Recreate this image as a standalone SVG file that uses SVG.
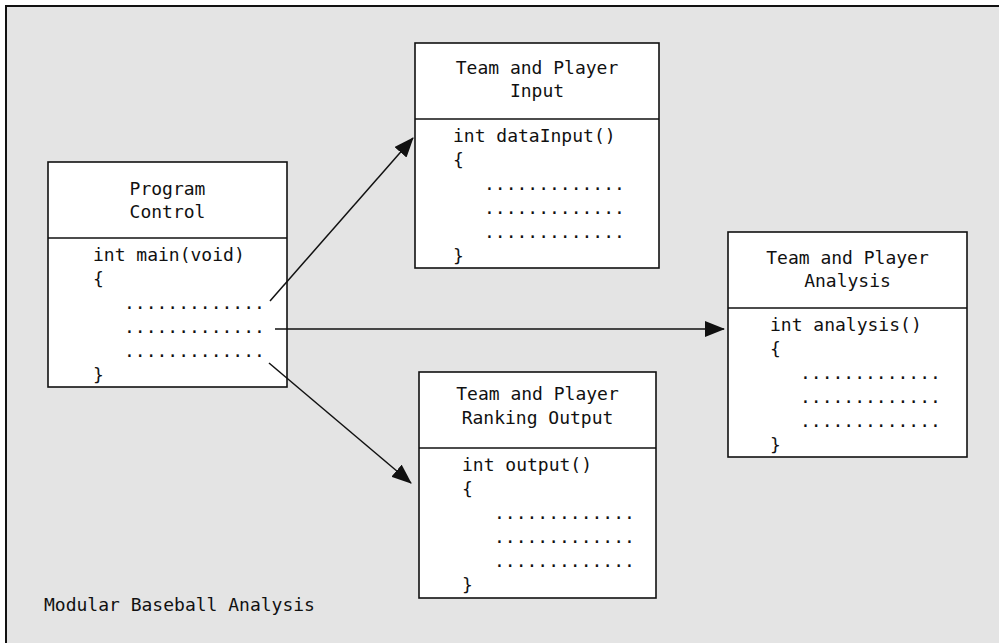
<svg xmlns="http://www.w3.org/2000/svg" width="999" height="643" viewBox="0 0 999 643">
<style>
.t{font-family:"DejaVu Sans Mono","Liberation Mono",monospace;font-size:18px;fill:#111}
.c{text-anchor:middle}
.box{fill:#fff;stroke:#111;stroke-width:1.6}
.div{stroke:#111;stroke-width:1.6}
.con{stroke:#111;stroke-width:1.5;fill:none}
</style>
<defs>
<marker id="ah" markerUnits="userSpaceOnUse" viewBox="0 0 20 16" refX="19" refY="8" markerWidth="20" markerHeight="16" orient="auto">
<path d="M0,0 L20,8 L0,16 z" fill="#111"/>
</marker>
</defs>
<rect x="0" y="0" width="999" height="643" fill="#fff"/>
<rect x="6" y="6" width="993" height="637" fill="#e4e4e4"/>
<path d="M6,643 V6 H999" fill="none" stroke="#111" stroke-width="2"/>

<g id="program-control">
<rect class="box" x="48" y="162" width="239" height="225"/>
<line class="div" x1="48" y1="238" x2="287" y2="238"/>
<text class="t c" x="167.5" y="195">Program</text>
<text class="t c" x="167.5" y="218">Control</text>
<text class="t" x="93" y="261">int main(void)</text>
<text class="t" x="93" y="285">{</text>
<text class="t" x="124" y="309">.............</text>
<text class="t" x="124" y="333">.............</text>
<text class="t" x="124" y="357">.............</text>
<text class="t" x="93" y="381">}</text>
</g>

<g id="team-player-input">
<rect class="box" x="415" y="43" width="244" height="225"/>
<line class="div" x1="415" y1="119" x2="659" y2="119"/>
<text class="t c" x="537" y="74">Team and Player</text>
<text class="t c" x="537" y="97">Input</text>
<text class="t" x="453" y="142">int dataInput()</text>
<text class="t" x="453" y="166">{</text>
<text class="t" x="484" y="190">.............</text>
<text class="t" x="484" y="214">.............</text>
<text class="t" x="484" y="238">.............</text>
<text class="t" x="453" y="262">}</text>
</g>

<g id="team-player-analysis">
<rect class="box" x="728" y="232" width="239" height="225"/>
<line class="div" x1="728" y1="308" x2="967" y2="308"/>
<text class="t c" x="847.5" y="264">Team and Player</text>
<text class="t c" x="847.5" y="287">Analysis</text>
<text class="t" x="770" y="331">int analysis()</text>
<text class="t" x="770" y="355">{</text>
<text class="t" x="800" y="379">.............</text>
<text class="t" x="800" y="403">.............</text>
<text class="t" x="800" y="427">.............</text>
<text class="t" x="770" y="451">}</text>
</g>

<g id="team-player-ranking-output">
<rect class="box" x="419" y="372" width="237" height="226"/>
<line class="div" x1="419" y1="448" x2="656" y2="448"/>
<text class="t c" x="537.5" y="400">Team and Player</text>
<text class="t c" x="537.5" y="424">Ranking Output</text>
<text class="t" x="462" y="471">int output()</text>
<text class="t" x="462" y="495">{</text>
<text class="t" x="494" y="519">.............</text>
<text class="t" x="494" y="543">.............</text>
<text class="t" x="494" y="567">.............</text>
<text class="t" x="462" y="591">}</text>
</g>

<g id="connectors">
<line class="con" x1="270" y1="301" x2="413" y2="138" marker-end="url(#ah)"/>
<line class="con" x1="275" y1="329" x2="724" y2="329" marker-end="url(#ah)"/>
<line class="con" x1="269" y1="363" x2="411" y2="483" marker-end="url(#ah)"/>
</g>

<text id="caption" class="t" x="44" y="611">Modular Baseball Analysis</text>
</svg>
